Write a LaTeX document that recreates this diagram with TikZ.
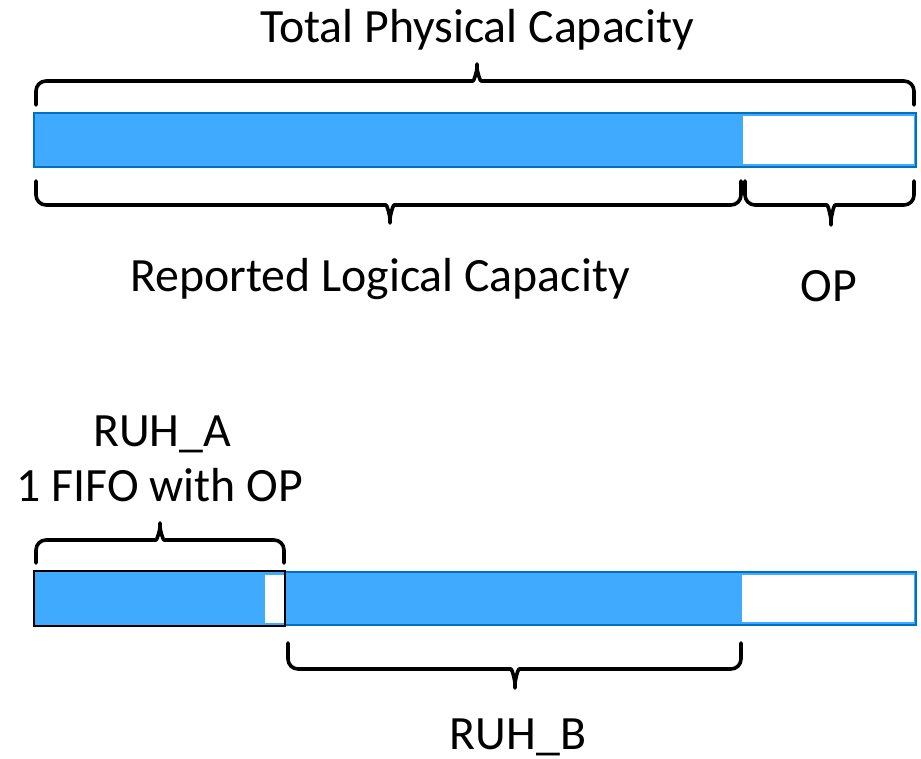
\documentclass[tikz,border=0pt]{standalone}
\usepackage{fontspec}
\setmainfont{Carlito}
\definecolor{barblue}{HTML}{40AAFF}
\definecolor{edgeblue}{HTML}{0070C0}
\tikzset{
  bracestyle/.style={line width=3.6pt, line cap=round, line join=round, rounded corners=10pt},
  barbody/.style={fill=barblue, draw=edgeblue, line width=2.6pt},
  barfree/.style={fill=white, draw=none},
  label/.style={anchor=base, inner sep=0pt, font=\fontsize{47.8}{50}\selectfont}
}
% curly brace: x-left, x-right, x-tip, y of the ends, y of the long stroke, y of the tip
\newcommand\curlybrace[6]{%
  \draw[bracestyle] (#1,#4) -- (#1,#5) -- (#3-14,#5)
    .. controls (#3-3,#5) and (#3,{#5+0.45*(#6-#5)}) .. (#3,#6)
    .. controls (#3,{#5+0.45*(#6-#5)}) and (#3+3,#5) .. (#3+14,#5)
    -- (#2,#5) -- (#2,#4);}
\begin{document}
\begin{tikzpicture}[x=1pt,y=-1pt]
\useasboundingbox (0,0) rectangle (921,758);

% upper bar: logical part and over-provisioning
\draw[barbody] (34,113) rectangle (916,167);
\fill[barfree] (743,116) rectangle (914,164);

\curlybrace{36}{914}{477}{105}{81}{58}
\curlybrace{36}{741}{390}{181}{205}{229}
\curlybrace{745}{914}{831}{181}{205}{231}

\node[label] (total) at (477,42) {Total Physical Capacity};
\node[label] (logical) at (380,291) {Reported Logical Capacity};
\node[label] (op) at (829,301) {OP};

% lower bar: RUH_B with its spare room, RUH_A as one FIFO with OP
\draw[barbody] (285,572) rectangle (916,625);
\fill[barfree] (742,575) rectangle (914,622);
\fill[barblue] (34,571) rectangle (285,626);
\fill[barfree] (265,575) rectangle (285,623);
\draw[line width=2.6pt] (34,571) rectangle (285,626);

\curlybrace{36}{284}{160}{563}{540}{517}
\curlybrace{288}{741}{515}{643}{669}{694}

\node[label] (ruha) at (162,446) {RUH\_A};
\node[label] (fifo) at (160,501) {1 FIFO with OP};
\node[label] (ruhb) at (518,749) {RUH\_B};
\end{tikzpicture}
\end{document}
